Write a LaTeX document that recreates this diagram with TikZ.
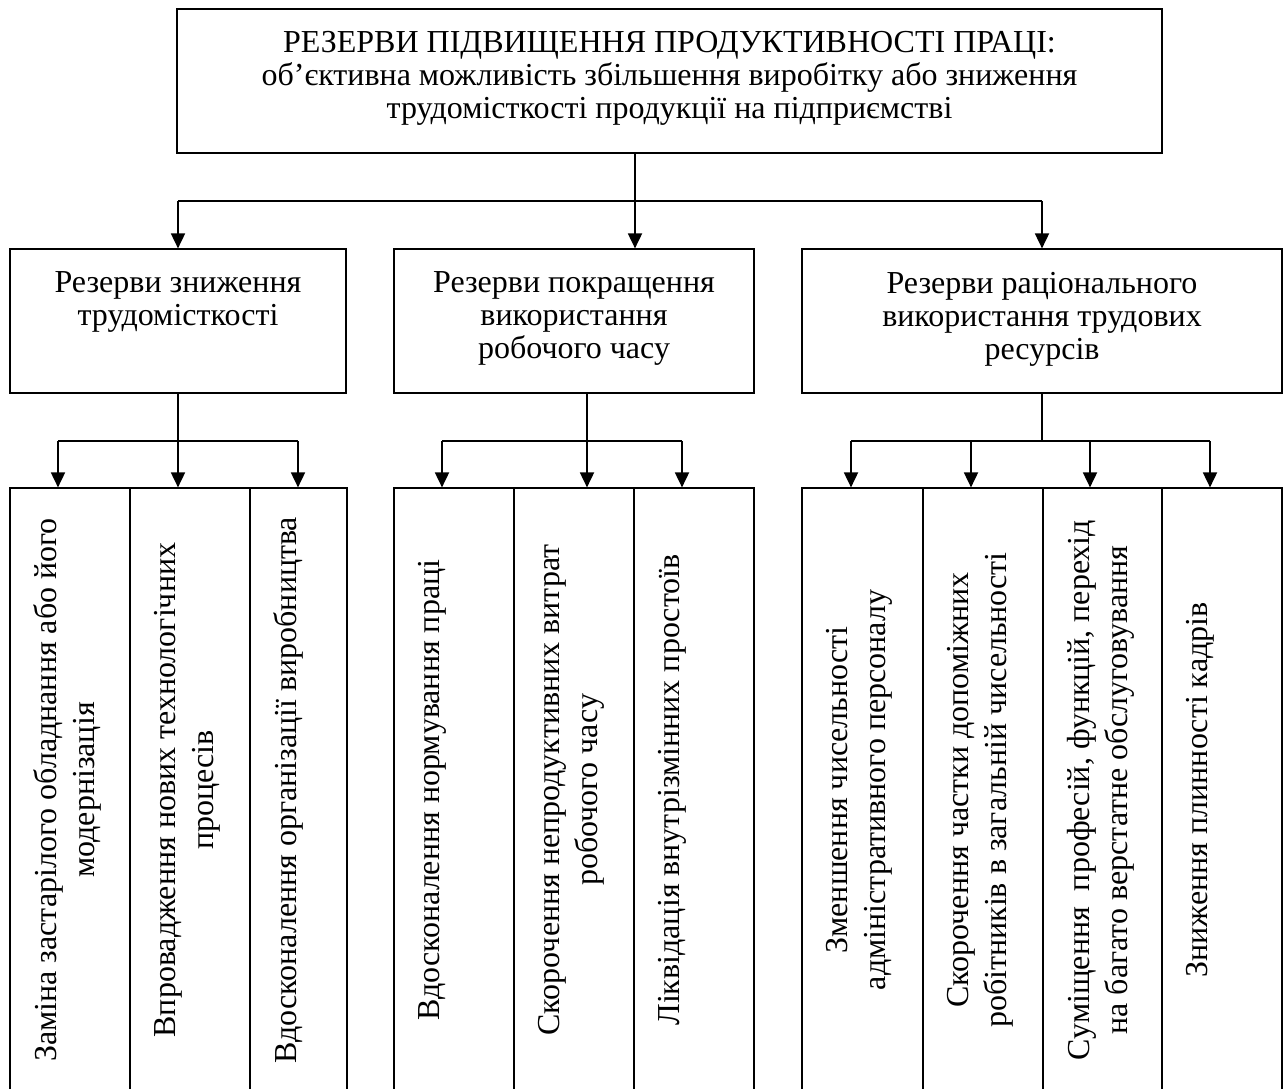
\documentclass[tikz,border=0pt]{standalone}
\usepackage{fontspec}
\setmainfont{Liberation Serif}
\usetikzlibrary{positioning, arrows.meta}

% text hung from the top of a box: height, width, gap, text
\newcommand{\boxtext}[4]{\parbox[c][#1][t]{#2}{\centering\vspace*{#3}#4}}

\begin{document}
\begin{tikzpicture}[
        x=0.5pt, y=-0.5pt,
        font=\fontsize{16}{16.5}\selectfont,
        box/.style={draw, line width=0.6pt, inner sep=0pt},
        leaf/.style={box, rotate=90, font=\fontsize{16}{19}\selectfont},
        arr/.style={-{Triangle[length=7.5pt, width=7pt]}, line width=0.9pt},
        bar/.style={line width=0.9pt},
        stem/.style={line width=0.6pt},
    ]
    \useasboundingbox (0,0) rectangle (1285,1088);

    % Top: reserves of labour productivity
    \node[box] (res) at (669.5,81) {\boxtext{72pt}{492.5pt}{11pt}{РЕЗЕРВИ ПІДВИЩЕННЯ ПРОДУКТИВНОСТІ ПРАЦІ:\\об’єктивна можливість збільшення виробітку або зниження\\трудомісткості продукції на підприємстві}};

    % Second level
    \node[box] (trud) at (178,321) {\boxtext{72pt}{168pt}{11.5pt}{Резерви зниження\\трудомісткості}};
    \node[box] (chas) at (574,321) {\boxtext{72pt}{180pt}{11.5pt}{Резерви покращення\\використання\\робочого часу}};
    \node[box] (kadr) at (1042,321) {\boxtext{72pt}{240pt}{11.5pt}{Резерви раціонального\\використання трудових\\ресурсів}};

    % Bottom level: labour intensity
    \node[leaf] (trud1) at (70,790) {\boxtext{60pt}{302pt}{12pt}{Заміна застарілого обладнання або його\\модернізація}};
    \node[leaf] (trud2) at (190,790) {\boxtext{60pt}{302pt}{12pt}{Впровадження нових технологічних\\процесів}};
    \node[leaf] (trud3) at (298.5,790) {\boxtext{48.5pt}{302pt}{12pt}{Вдосконалення організації виробництва}};

    % Bottom level: working time
    \node[leaf] (chas1) at (454,790) {\boxtext{60pt}{302pt}{12pt}{Вдосконалення нормування праці}};
    \node[leaf] (chas2) at (574,790) {\boxtext{60pt}{302pt}{12pt}{Скорочення непродуктивних витрат\\робочого часу}};
    \node[leaf] (chas3) at (694,790) {\boxtext{60pt}{302pt}{12pt}{Ліквідація внутрізмінних простоїв}};

    % Bottom level: labour resources
    \node[leaf] (kadr1) at (862.5,790) {\boxtext{60.5pt}{302pt}{12pt}{Зменшення чисельності\\адміністративного персоналу}};
    \node[leaf] (kadr2) at (983,790) {\boxtext{60pt}{302pt}{12pt}{Скорочення частки допоміжних\\робітників в загальній чисельності}};
    \node[leaf] (kadr3) at (1102.5,790) {\boxtext{59.5pt}{302pt}{12pt}{Суміщення~ професій, функцій, перехід\\на багато верстатне обслуговування}};
    \node[leaf] (kadr4) at (1222,790) {\boxtext{60pt}{302pt}{12pt}{Зниження плинності кадрів}};

    % Top -> second level
    \coordinate (j0) at (635,201);
    \draw[stem] (res.south -| j0) -- (j0);
    \draw[bar] (trud.north |- j0) -- (kadr.north |- j0);
    \draw[arr] (trud.north |- j0) -- (trud.north);
    \draw[arr] (j0) -- (j0 |- chas.north);
    \draw[arr] (kadr.north |- j0) -- (kadr.north);

    % trud -> bottom
    \coordinate (ja1) at (58,441);
    \coordinate (ja3) at (298,441);
    \draw[stem] (trud.south) -- (trud.south |- ja1);
    \draw[bar] (ja1) -- (ja3);
    \draw[arr] (ja1) -- (ja1 |- trud1.east);
    \draw[arr] (trud.south |- ja1) -- (trud.south |- trud2.east);
    \draw[arr] (ja3) -- (ja3 |- trud3.east);

    % chas -> bottom
    \coordinate (jb0) at (587,441);
    \coordinate (jb1) at (442,441);
    \coordinate (jb3) at (682,441);
    \draw[stem] (chas.south -| jb0) -- (jb0);
    \draw[bar] (jb1) -- (jb3);
    \draw[arr] (jb1) -- (jb1 |- chas1.east);
    \draw[arr] (jb0) -- (jb0 |- chas2.east);
    \draw[arr] (jb3) -- (jb3 |- chas3.east);

    % kadr -> bottom
    \coordinate (jc1) at (851,441);
    \coordinate (jc2) at (971,441);
    \coordinate (jc3) at (1090,441);
    \coordinate (jc4) at (1210,441);
    \draw[stem] (kadr.south) -- (kadr.south |- jc1);
    \draw[bar] (jc1) -- (jc4);
    \draw[arr] (jc1) -- (jc1 |- kadr1.east);
    \draw[arr] (jc2) -- (jc2 |- kadr2.east);
    \draw[arr] (jc3) -- (jc3 |- kadr3.east);
    \draw[arr] (jc4) -- (jc4 |- kadr4.east);
\end{tikzpicture}
\end{document}
